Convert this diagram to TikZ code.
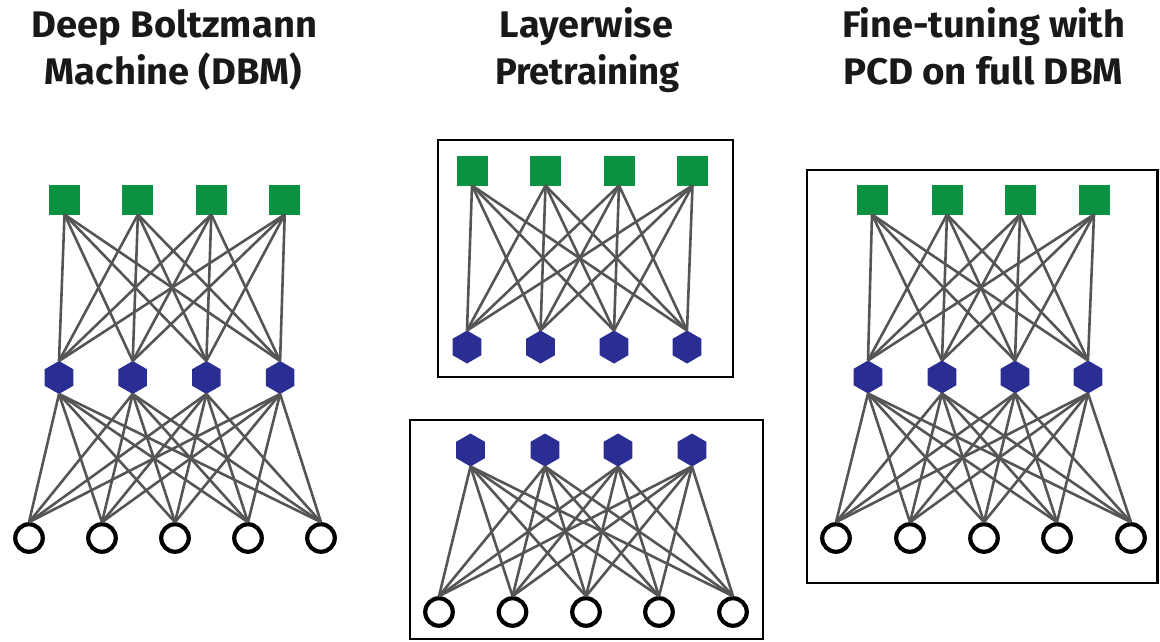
\documentclass[tikz,border=0pt]{standalone}
\usepackage{fontspec}
\setmainfont{Fira Sans}
\usepackage{graphicx}
\usetikzlibrary{shapes.geometric}
\definecolor{sqgreen}{RGB}{10,146,66}
\definecolor{hexblue}{RGB}{42,45,146}
\definecolor{edgegray}{RGB}{85,85,85}
\definecolor{titleink}{RGB}{25,25,25}
\tikzset{
  sq/.style={rectangle, fill=sqgreen, minimum width=31pt, minimum height=30pt, inner sep=0pt, outer sep=0pt},
  hex/.style={regular polygon, regular polygon sides=6, shape border rotate=30, fill=hexblue, minimum size=33pt, inner sep=0pt, outer sep=0pt},
  vis/.style={circle, draw=black, line width=4.2pt, minimum size=27.5pt, inner sep=0pt},
  edge/.style={draw=edgegray, line width=2.6pt},
  frame/.style={draw=black, line width=2.8pt},
  title/.style={font=\fontsize{37}{44}\selectfont\bfseries, text=titleink, inner sep=0pt, anchor=base}
}
\begin{document}
\begin{tikzpicture}[x=1pt,y=-1pt]
\useasboundingbox (0,0) rectangle (1160,641);
% titles
\node[title] (T1a) at (174.5,37.5) {\resizebox{285pt}{\height}{Deep Boltzmann}};
\node[title] (T1b) at (173.5,84) {\resizebox{257pt}{\height}{Machine (DBM)}};
\node[title] (T2a) at (586.5,37.5) {\resizebox{173pt}{\height}{Layerwise}};
\node[title] (T2b) at (587.5,84) {\resizebox{185pt}{\height}{Pretraining}};
\node[title] (T3a) at (983.5,37.5) {\resizebox{283pt}{\height}{Fine-tuning with}};
\node[title] (T3b) at (983,84) {\resizebox{280pt}{\height}{PCD on full DBM}};
% frames
\draw[frame] (438,140) rectangle (733,377);
\draw[frame] (410,420) rectangle (763,639);
\draw[frame] (807,170) rectangle (1157.5,583);
% left panel
\foreach \i/\x in {1/64.5,2/137.9,3/211.3,4/284.7} \node[sq] (La\i) at (\x,199.5) {};
\foreach \i/\x in {1/59,2/132.7,3/206.4,4/280.1} \node[hex] (Lb\i) at (\x,377.5) {};
\foreach \i/\x in {1/29,2/102,3/175,4/248,5/321} \node[vis] (Lc\i) at (\x,538) {};
\foreach \i in {1,...,4} \foreach \j in {1,...,4} \draw[edge] (La\i.south) -- (Lb\j.north);
\foreach \i in {1,...,4} \foreach \j in {1,...,5} \draw[edge] (Lb\i.south) -- (Lc\j.north);
% middle top
\foreach \i/\x in {1/472,2/545.5,3/619,4/692.5} \node[sq] (Ma\i) at (\x,170.5) {};
\foreach \i/\x in {1/467,2/540.5,3/614,4/687} \node[hex] (Mb\i) at (\x,347) {};
\foreach \i in {1,...,4} \foreach \j in {1,...,4} \draw[edge] (Ma\i.south) -- (Mb\j.north);
% middle bottom
\foreach \i/\x in {1/470.5,2/545,3/618,4/692} \node[hex] (Nb\i) at (\x,450) {};
\foreach \i/\x in {1/439,2/512.5,3/586,4/659,5/733} \node[vis] (Nc\i) at (\x,612) {};
\foreach \i in {1,...,4} \foreach \j in {1,...,5} \draw[edge] (Nb\i.south) -- (Nc\j.north);
% right panel
\foreach \i/\x in {1/872,2/947,3/1020,4/1094} \node[sq] (Ra\i) at (\x,199.5) {};
\foreach \i/\x in {1/868,2/942,3/1015,4/1088} \node[hex] (Rb\i) at (\x,377) {};
\foreach \i/\x in {1/836,2/910,3/984,4/1057,5/1131} \node[vis] (Rc\i) at (\x,538) {};
\foreach \i in {1,...,4} \foreach \j in {1,...,4} \draw[edge] (Ra\i.south) -- (Rb\j.north);
\foreach \i in {1,...,4} \foreach \j in {1,...,5} \draw[edge] (Rb\i.south) -- (Rc\j.north);
\end{tikzpicture}
\end{document}
